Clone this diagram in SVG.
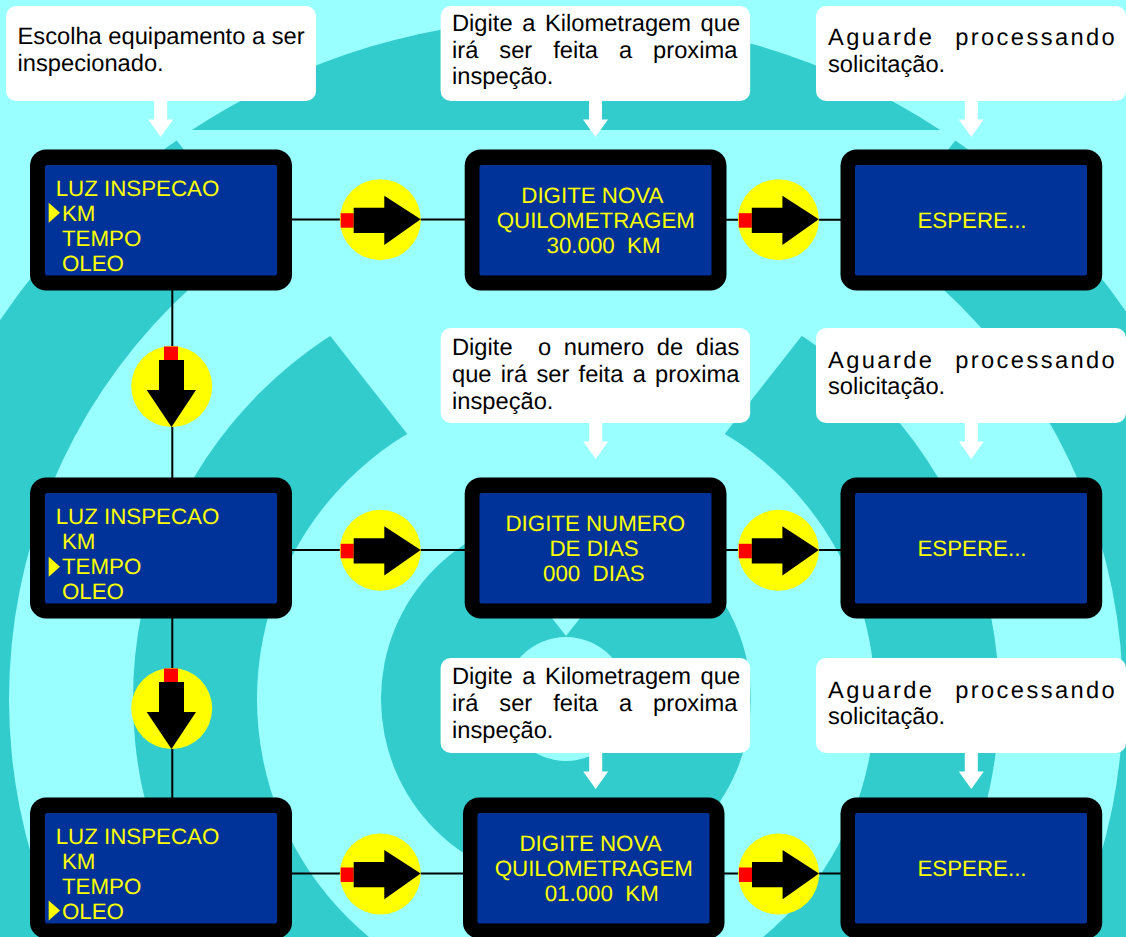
<svg xmlns="http://www.w3.org/2000/svg" width="1126" height="937" viewBox="0 0 1126 937">
<style>
.d{fill:#33CCCC}.l{fill:#99FFFF}
.frame{fill:#000}.lcd{fill:#003399}
.t{font-family:"Liberation Sans",Arial,sans-serif;font-size:22.3px;fill:#FFFF00;white-space:pre;text-rendering:geometricPrecision}
.c{font-family:"Liberation Sans",Arial,sans-serif;font-size:23.7px;fill:#000;white-space:pre;text-rendering:geometricPrecision}
.a{letter-spacing:2.4px;word-spacing:11.8px}
.j1{word-spacing:3px}.j2{word-spacing:14.4px}.j3{word-spacing:6.1px}.j4{word-spacing:2.7px}
.w{fill:#FFF}.y{fill:#FFFF00}.r{fill:#F00}.k{fill:#000}
.line{stroke:#000;stroke-width:2;fill:none}
</style>
<defs>
<g id="ra"><circle class="y" cx="0" cy="0" r="40.5"/><rect class="r" x="-39.6" y="-6.5" width="13" height="14.5"/><path class="k" d="M-26.6-12H4V-24L40.4-.4 4 25.3V13.3H-26.6Z"/></g>
<g id="da"><circle class="y" cx="0" cy="0" r="40.5"/><rect class="r" x="-7.7" y="-40" width="14" height="13.5"/><path class="k" d="M-12.7-26.5H12.3V3.5H24.3L-.2 40.5-25 3.5H-12.7Z"/></g>
<path id="wa" class="w" d="M-6.5 0H6.5V18.5H12.5L0 36-12.5 18.5H-6.5Z"/>
</defs>
<g id="background">
<rect class="l" width="1126" height="937"/>
<circle class="d" cx="566" cy="699" r="681"/>
<circle class="l" cx="566" cy="699" r="557"/>
<circle class="d" cx="566" cy="699" r="433"/>
<circle class="l" cx="566" cy="699" r="309"/>
<circle class="d" cx="566" cy="699" r="185"/>
<path class="l" d="M566 636 58.5-10H1073.5Z"/>
<circle class="l" cx="566" cy="699" r="62"/>
<path class="d" d="M191.8 130A681 681 0 0 1 940.2 130Z"/>
</g>
<g id="connectors">
<path class="line" d="M291 219.6H465M726 219.7H841M291 550H465M726 550H841M291 873.4H463M724 873.4H841M172.3 290V478M172.3 618V798"/>
<use href="#ra" x="380.3" y="219.7"/><use href="#ra" x="778.4" y="219.7"/>
<use href="#ra" x="380.3" y="550.3"/><use href="#ra" x="778.4" y="550.3"/>
<use href="#ra" x="380.3" y="874"/><use href="#ra" x="778.6" y="874"/>
<use href="#da" x="171.7" y="386.5"/><use href="#da" x="171.7" y="708.5"/>
<use href="#wa" x="160.7" y="101"/><use href="#wa" x="595.5" y="101"/><use href="#wa" x="971.3" y="101"/>
<use href="#wa" x="595.7" y="423"/><use href="#wa" x="971.3" y="423"/>
<use href="#wa" x="595.7" y="753"/><use href="#wa" x="971.3" y="753"/>
</g>
<g id="note1"><rect class="w" x="6" y="6" width="310" height="95" rx="10"/><text class="c" x="17.5" y="44.3">Escolha equipamento a ser</text><text class="c" x="17.5" y="71">inspecionado.</text></g>
<g id="note2"><rect class="w" x="440.6" y="6" width="309.6" height="95" rx="10"/><text class="c j1" x="452" y="30.7">Digite a Kilometragem que</text><text class="c j2" x="452" y="57.7">irá ser feita a proxima</text><text class="c" x="452" y="84">inspeção.</text></g>
<g id="note3"><rect class="w" x="816" y="6" width="310" height="95" rx="10"/><text class="c a" x="828" y="45">Aguarde processando</text><text class="c" x="828" y="71.7">solicitação.</text></g>
<g id="note4"><rect class="w" x="440.6" y="328" width="309.6" height="95" rx="10"/><text class="c j3" x="452" y="355">Digite  o numero de dias</text><text class="c j4" x="452" y="382.3">que irá ser feita a proxima</text><text class="c" x="452" y="409">inspeção.</text></g>
<g id="note5"><rect class="w" x="816" y="328" width="310" height="95" rx="10"/><text class="c a" x="828" y="368">Aguarde processando</text><text class="c" x="828" y="394.3">solicitação.</text></g>
<g id="note6"><rect class="w" x="440.6" y="658" width="309.6" height="95" rx="10"/><text class="c j1" x="452" y="684">Digite a Kilometragem que</text><text class="c j2" x="452" y="711">irá ser feita a proxima</text><text class="c" x="452" y="737.7">inspeção.</text></g>
<g id="note7"><rect class="w" x="816" y="658" width="310" height="95" rx="10"/><text class="c a" x="828" y="698">Aguarde processando</text><text class="c" x="828" y="724.3">solicitação.</text></g>
<g id="menu1"><rect class="frame" x="30" y="149.5" width="262" height="141" rx="16"/><rect class="lcd" x="45" y="165" width="232" height="110.5" rx="2"/><path class="y" d="M48.7 202.7 60 212.7 48.7 222.7Z"/><text class="t" x="55.7" y="195.5">LUZ INSPECAO</text><text class="t" x="62" y="220.5">KM</text><text class="t" x="62" y="245.5">TEMPO</text><text class="t" x="62" y="270.5">OLEO</text></g>
<g id="menu2"><rect class="frame" x="30" y="477.5" width="262" height="141" rx="16"/><rect class="lcd" x="45" y="493" width="232" height="110.5" rx="2"/><path class="y" d="M48.7 556.7 60 566.7 48.7 576.7Z"/><text class="t" x="55.7" y="523.5">LUZ INSPECAO</text><text class="t" x="62" y="548.5">KM</text><text class="t" x="62" y="573.5">TEMPO</text><text class="t" x="62" y="598.5">OLEO</text></g>
<g id="menu3"><rect class="frame" x="30" y="797.5" width="262" height="141" rx="16"/><rect class="lcd" x="45" y="813" width="232" height="110.5" rx="2"/><path class="y" d="M48.7 900.5 60 910.5 48.7 920.5Z"/><text class="t" x="55.7" y="843.5">LUZ INSPECAO</text><text class="t" x="62" y="868.5">KM</text><text class="t" x="62" y="893.5">TEMPO</text><text class="t" x="62" y="918.5">OLEO</text></g>
<g id="entry1"><rect class="frame" x="464.7" y="149.5" width="261.8" height="141" rx="16"/><rect class="lcd" x="479.5" y="165" width="232" height="110.5" rx="2"/><text class="t" x="521.3" y="203">DIGITE NOVA</text><text class="t" x="496.7" y="228">QUILOMETRAGEM</text><text class="t" x="546.5" y="253">30.000  KM</text></g>
<g id="entry2"><rect class="frame" x="464.7" y="477.5" width="261.8" height="141" rx="16"/><rect class="lcd" x="479.5" y="493" width="232" height="110.5" rx="2"/><text class="t" x="505.5" y="530.7">DIGITE NUMERO</text><text class="t" x="549.5" y="556">DE DIAS</text><text class="t" x="543" y="581">000  DIAS</text></g>
<g id="entry3"><rect class="frame" x="463" y="797.5" width="261.5" height="141" rx="16"/><rect class="lcd" x="477.5" y="813" width="232" height="110.5" rx="2"/><text class="t" x="519.5" y="851">DIGITE NOVA</text><text class="t" x="494.7" y="876">QUILOMETRAGEM</text><text class="t" x="544.7" y="901">01.000  KM</text></g>
<g id="wait1"><rect class="frame" x="840.5" y="149.5" width="261.7" height="141" rx="16"/><rect class="lcd" x="855" y="165" width="232" height="110.5" rx="2"/><text class="t" x="917.5" y="227.7">ESPERE...</text></g>
<g id="wait2"><rect class="frame" x="840.5" y="477.5" width="261.7" height="141" rx="16"/><rect class="lcd" x="855" y="493" width="232" height="110.5" rx="2"/><text class="t" x="917.5" y="555.7">ESPERE...</text></g>
<g id="wait3"><rect class="frame" x="840.5" y="797.5" width="261.7" height="141" rx="16"/><rect class="lcd" x="855" y="813" width="232" height="110.5" rx="2"/><text class="t" x="917.5" y="875.7">ESPERE...</text></g>
</svg>
